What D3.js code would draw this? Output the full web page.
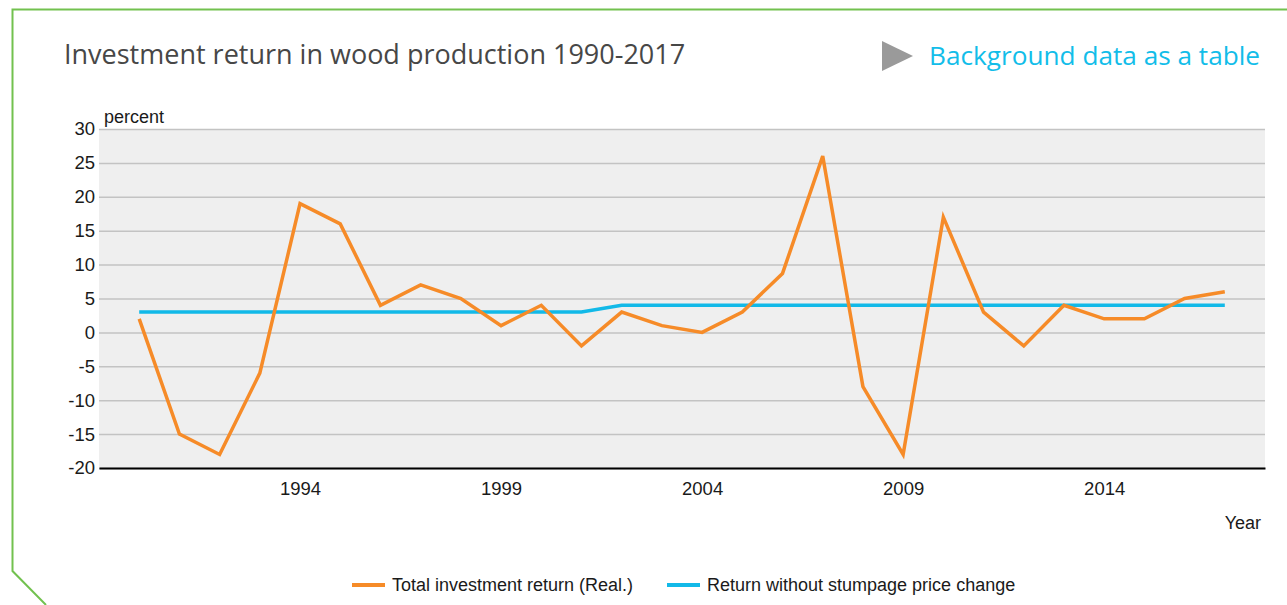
<!DOCTYPE html>
<html>
<head>
<meta charset="utf-8">
<script src="https://cdn.jsdelivr.net/npm/d3@7"></script>
<style>
  html, body { margin: 0; padding: 0; background: #fff; }
  svg { display: block; }
</style>
</head>
<body>
<svg id="chart" width="1287" height="605"></svg>
<script>
// Annual returns, percent
const years = d3.range(1990, 2018);
const totalReturn = [2, -15, -18, -6, 19, 16, 4, 7, 5, 1, 4, -2, 3, 1, 0, 3, 8.7, 26, -8, -18, 17, 3, -2, 4, 2, 2, 5, 6];
const baseReturn = [3, 3, 3, 3, 3, 3, 3, 3, 3, 3, 3, 3, 4, 4, 4, 4, 4, 4, 4, 4, 4, 4, 4, 4, 4, 4, 4, 4];
const yTicks = [30, 25, 20, 15, 10, 5, 0, -5, -10, -15, -20];
const xTicks = [1994, 1999, 2004, 2009, 2014];
const seriesNames = ["Total investment return (Real.)", "Return without stumpage price change"];
const seriesColors = ["#f68b28", "#12b9e8"];

const svg = d3.select("#chart");
const plot = { left: 99, right: 1265, top: 129, bottom: 468 };

const x = d3.scaleLinear().domain([1989, 2018]).range([plot.left, plot.right]);
const y = d3.scaleLinear().domain([-20, 30]).range([plot.bottom, plot.top]);

// Green frame with clipped corner
svg.append("path")
  .attr("d", "M1290,9.5 L12.5,9.5 L12.5,571 L46,605")
  .attr("fill", "none")
  .attr("stroke", "#72c14f")
  .attr("stroke-width", 2);

// Title and link
svg.append("text")
  .attr("x", 64).attr("y", 64)
  .attr("font-family", "'Open Sans', sans-serif")
  .attr("font-size", 27)
  .attr("fill", "#474747")
  .text("Investment return in wood production 1990-2017");

svg.append("path")
  .attr("d", "M882,41 L913,56 L882,71 Z")
  .attr("fill", "#9a9a9a");

svg.append("text")
  .attr("x", 929).attr("y", 65)
  .attr("font-family", "'Open Sans', sans-serif")
  .attr("font-size", 26.2)
  .attr("fill", "#12bde9")
  .text("Background data as a table");

// Plot background
svg.append("rect")
  .attr("x", plot.left).attr("y", plot.top)
  .attr("width", plot.right - plot.left).attr("height", plot.bottom - plot.top)
  .attr("fill", "#efefef");

// Y axis with grid lines
const yAxis = d3.axisLeft(y).tickValues(yTicks)
  .tickFormat(d => String(d))
  .tickSize(-(plot.right - plot.left)).tickPadding(4);
const yg = svg.append("g").attr("transform", `translate(${plot.left},0)`).call(yAxis);
yg.select(".domain").remove();
yg.selectAll(".tick line").attr("stroke", "#c3c3c3").attr("stroke-width", 1.5);
yg.selectAll(".tick text")
  .attr("font-family", "'Liberation Sans', Arial, sans-serif")
  .attr("font-size", 18.5)
  .attr("fill", "#1a1a1a")
  .attr("x", -4);

// X axis
const xAxis = d3.axisBottom(x).tickValues(xTicks).tickFormat(d3.format("d")).tickSize(0).tickPadding(14);
const xg = svg.append("g").attr("transform", `translate(0,${plot.bottom})`).call(xAxis);
xg.select(".domain").attr("stroke", "#000").attr("stroke-width", 2);
xg.selectAll(".tick text")
  .attr("font-family", "'Liberation Sans', Arial, sans-serif")
  .attr("font-size", 18.5)
  .attr("fill", "#1a1a1a");

// Axis titles
svg.append("text")
  .attr("x", 104).attr("y", 123)
  .attr("font-family", "'Liberation Sans', Arial, sans-serif")
  .attr("font-size", 18)
  .attr("fill", "#1a1a1a")
  .text("percent");

svg.append("text")
  .attr("x", 1261).attr("y", 529)
  .attr("text-anchor", "end")
  .attr("font-family", "'Liberation Sans', Arial, sans-serif")
  .attr("font-size", 18)
  .attr("fill", "#1a1a1a")
  .text("Year");

// Lines
const line = d3.line().x(d => x(d[0])).y(d => y(d[1]));
[baseReturn, totalReturn].forEach((vals, i) => {
  const idx = i === 0 ? 1 : 0;
  svg.append("path")
    .datum(years.map((yr, j) => [yr, vals[j]]))
    .attr("d", line)
    .attr("fill", "none")
    .attr("stroke", seriesColors[idx])
    .attr("stroke-width", 3.5)
    .attr("stroke-linejoin", "miter");
});

// Legend
const legendItems = [
  { name: seriesNames[0], color: seriesColors[0], x: 352 },
  { name: seriesNames[1], color: seriesColors[1], x: 667 }
];
const lg = svg.append("g");
legendItems.forEach(item => {
  lg.append("line")
    .attr("x1", item.x).attr("x2", item.x + 33)
    .attr("y1", 585).attr("y2", 585)
    .attr("stroke", item.color).attr("stroke-width", 4);
  lg.append("text")
    .attr("x", item.x + 40).attr("y", 591)
    .attr("font-family", "'Liberation Sans', Arial, sans-serif")
    .attr("font-size", 18)
    .attr("fill", "#1a1a1a")
    .text(item.name);
});
</script>
</body>
</html>
